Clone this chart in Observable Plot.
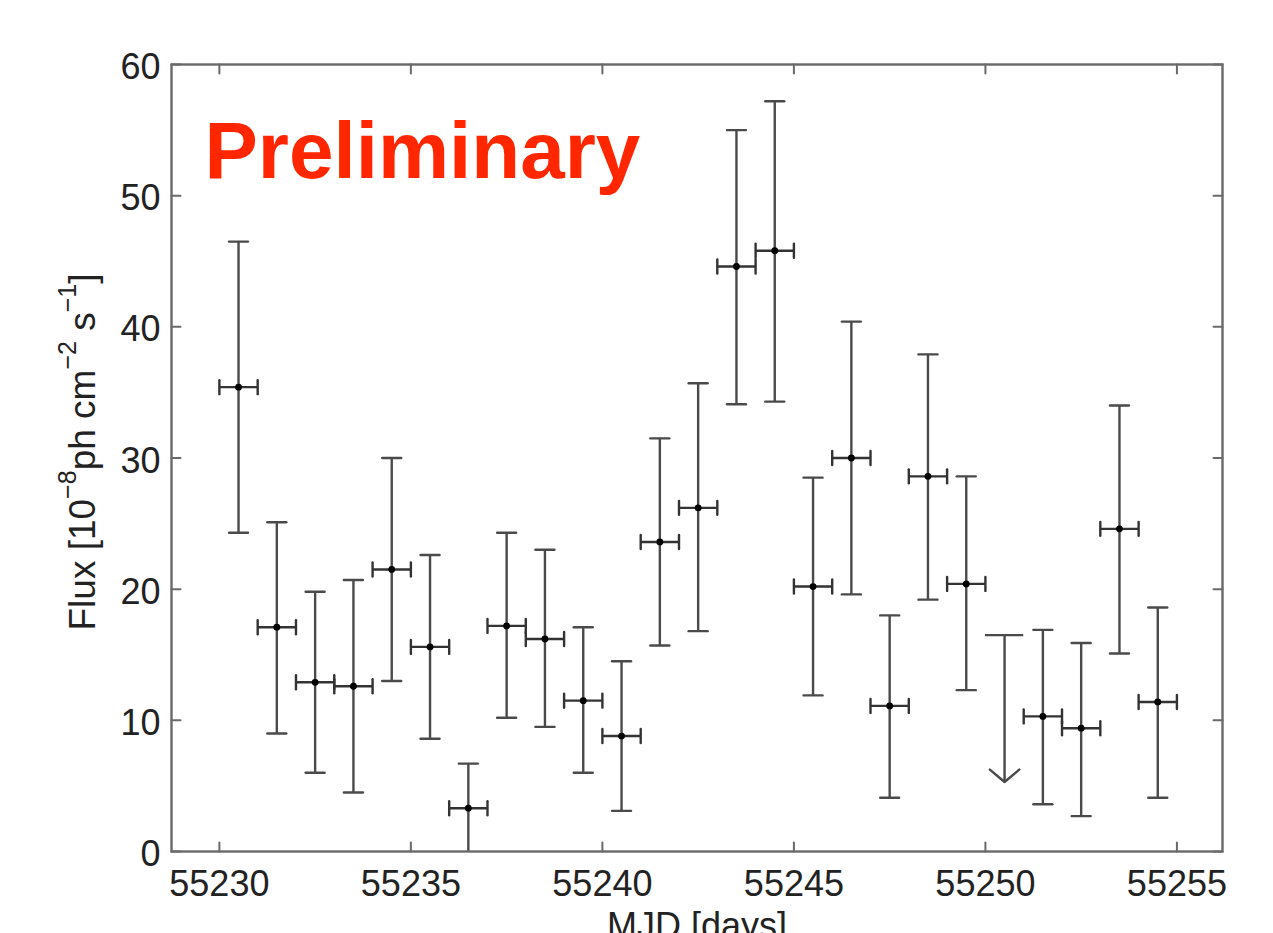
<!DOCTYPE html>
<html><head><meta charset="utf-8">
<script src="https://cdn.jsdelivr.net/npm/d3@7"></script>
<script src="https://cdn.jsdelivr.net/npm/@observablehq/plot@0.6"></script>
<style>
html,body{margin:0;padding:0;background:#fff;}
#chart{position:relative;width:1273px;height:933px;overflow:hidden;}
</style>
</head><body><div id="chart"></div>
<script>
// ---- data ----
const mjd = [55230.5, 55231.5, 55232.5, 55233.5, 55234.5, 55235.5, 55236.5, 55237.5, 55238.5, 55239.5,
             55240.5, 55241.5, 55242.5, 55243.5, 55244.5, 55245.5, 55246.5, 55247.5, 55248.5, 55249.5,
             55251.5, 55252.5, 55253.5, 55254.5];
const flux   = [35.4, 17.1, 12.9, 12.6, 21.5, 15.6, 3.3, 17.2, 16.2, 11.5,
                8.8, 23.6, 26.2, 44.6, 45.8, 20.2, 30.0, 11.1, 28.6, 20.4,
                10.3, 9.4, 24.6, 11.4];
const fluxHi = [46.5, 25.1, 19.8, 20.7, 30.0, 22.6, 6.7, 24.3, 23.0, 17.1,
                14.5, 31.5, 35.7, 55.0, 57.2, 28.5, 40.4, 18.0, 37.9, 28.6,
                16.9, 15.9, 34.0, 18.6];
const fluxLo = [24.3, 9.0, 6.0, 4.5, 13.0, 8.6, -0.1, 10.2, 9.5, 6.0,
                3.1, 15.7, 16.8, 34.1, 34.3, 11.9, 19.6, 4.1, 19.2, 12.3,
                3.6, 2.7, 15.1, 4.1];
const binHalfWidth = 0.5;
const upperLimitMjd = [55250.5];
const upperLimitFlux = [16.5];
const upperLimitArrowTip = [5.3];
const xTicks = [55230, 55235, 55240, 55245, 55250, 55255];
const yTicks = [0, 10, 20, 30, 40, 50, 60];
const xDomain = [55228.75, 55256.19];
const yDomain = [0, 60];
const xLabel = "MJD [days]";
const yLabelParts = [["Flux [10", false], ["\u22128", true], ["ph cm", false], ["\u22122", true], [" s", false], ["\u22121", true], ["]", false]];
const watermark = "Preliminary";

// ---- build tables ----
const points = mjd.map((x, i) => ({x, f: flux[i], hi: fluxHi[i], lo: fluxLo[i]}));
const limits = upperLimitMjd.map((x, i) => ({x, f: upperLimitFlux[i], tip: upperLimitArrowTip[i]}));

const lineShape = {draw(ctx, l) { ctx.moveTo(0, 0); ctx.lineTo(0, -l); }};
const barColor = "#4a4a4a";
const frameColor = "#6a6a6a";
const font = "'Liberation Sans', Arial, Helvetica, sans-serif";

const chart = Plot.plot({
  width: 1273, height: 933,
  marginTop: 64, marginRight: 51, marginBottom: 82, marginLeft: 171,
  style: {fontFamily: font, background: "#fff", color: "#222"},
  x: {domain: xDomain, axis: null},
  y: {domain: yDomain, axis: null},
  marks: [
    // vertical error bars
    Plot.ruleX(points, {x: "x", y1: "lo", y2: "hi", stroke: barColor, strokeWidth: 2.4, clip: true}),
    Plot.vector(points, {x: "x", y: "hi", length: 19, rotate: 90, anchor: "middle", shape: lineShape, stroke: barColor, strokeWidth: 2.4}),
    Plot.vector(points, {x: "x", y: "lo", length: 19, rotate: 90, anchor: "middle", shape: lineShape, stroke: barColor, strokeWidth: 2.4, clip: true}),
    // horizontal (bin) bars
    Plot.ruleY(points, {y: "f", x1: d => d.x - binHalfWidth, x2: d => d.x + binHalfWidth, stroke: "#333", strokeWidth: 2.4}),
    Plot.vector(points, {x: d => d.x - binHalfWidth, y: "f", length: 14, anchor: "middle", shape: lineShape, stroke: "#333", strokeWidth: 2.4}),
    Plot.vector(points, {x: d => d.x + binHalfWidth, y: "f", length: 14, anchor: "middle", shape: lineShape, stroke: "#333", strokeWidth: 2.4}),
    Plot.dot(points, {x: "x", y: "f", r: 3.4, fill: "#000", stroke: "none"}),
    // upper limit
    Plot.ruleY(limits, {y: "f", x1: d => d.x - binHalfWidth, x2: d => d.x + binHalfWidth, stroke: barColor, strokeWidth: 2.4}),
    Plot.arrow(limits, {x1: "x", y1: "f", x2: "x", y2: "tip", headLength: 12, headAngle: 100, stroke: barColor, strokeWidth: 2.4}),
    // frame ticks (inward on all four sides)
    Plot.vector(xTicks, {x: d => d, frameAnchor: "bottom", length: 9, rotate: 0, anchor: "start", shape: lineShape, stroke: frameColor, strokeWidth: 2}),
    Plot.vector(xTicks, {x: d => d, frameAnchor: "top", length: 9, rotate: 180, anchor: "start", shape: lineShape, stroke: frameColor, strokeWidth: 2}),
    Plot.vector(yTicks, {y: d => d, frameAnchor: "left", length: 9, rotate: 90, anchor: "start", shape: lineShape, stroke: frameColor, strokeWidth: 2}),
    Plot.vector(yTicks, {y: d => d, frameAnchor: "right", length: 9, rotate: -90, anchor: "start", shape: lineShape, stroke: frameColor, strokeWidth: 2}),
    Plot.frame({stroke: frameColor, strokeWidth: 2.4}),
    // tick labels
    Plot.axisX({anchor: "bottom", ticks: xTicks, tickSize: 0, tickPadding: 19, fontSize: 36, label: null, tickFormat: d => String(d), fill: "#222"}),
    Plot.axisY({anchor: "left", ticks: yTicks, tickSize: 0, tickPadding: 11, dy: 3, fontSize: 36, label: null, fill: "#222"}),
    // x label (cut by the bottom edge, as in the reference)
    Plot.text([xLabel], {frameAnchor: "bottom", lineAnchor: "top", dy: 61, fontSize: 36, fill: "#222"}),
    // watermark
    Plot.text([watermark], {frameAnchor: "top-left", textAnchor: "start", lineAnchor: "bottom", dx: 33, dy: 113, fontSize: 80, fontWeight: "bold", fill: "#ff2600"})
  ]
});

document.getElementById("chart").appendChild(chart);

// y label with superscripts (real text)
const svg = d3.select(chart);
const yl = svg.append("text")
  .attr("transform", "translate(82,452) rotate(-90)")
  .attr("text-anchor", "middle")
  .attr("dominant-baseline", "central")
  .attr("font-family", font)
  .attr("font-size", 37)
  .attr("fill", "#222");
yLabelParts.forEach(([t, sup], i) => {
  const prev = i > 0 ? yLabelParts[i - 1][1] : false;
  let dy = 0;
  if (sup && !prev) dy = -15;
  else if (!sup && prev) dy = 15;
  const ts = yl.append("tspan").text(t).attr("dy", dy);
  if (sup) ts.attr("font-size", 25);
});
</script>
</body></html>
